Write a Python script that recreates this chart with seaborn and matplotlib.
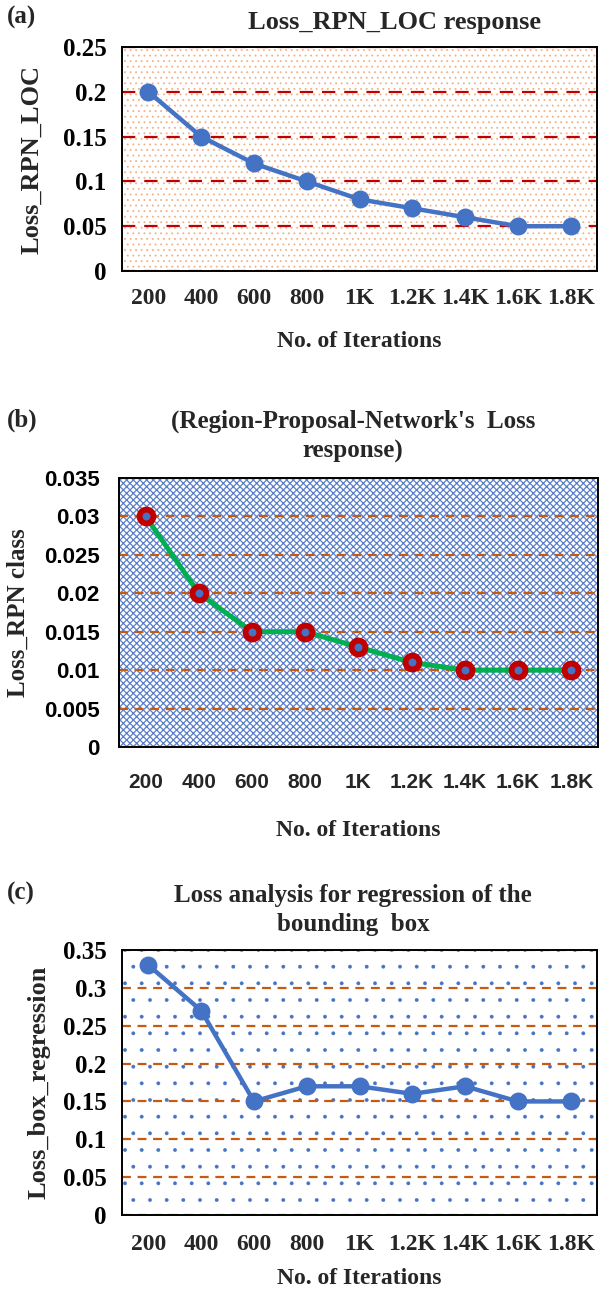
import matplotlib
matplotlib.use("Agg")
import matplotlib.pyplot as plt
from matplotlib.patches import Rectangle
import seaborn as sns

ITER_LABELS = ['200', '400', '600', '800', '1K', '1.2K', '1.4K', '1.6K', '1.8K']
rpn_loc = [0.2, 0.15, 0.12, 0.1, 0.08, 0.07, 0.06, 0.05, 0.05]
rpn_class = [0.03, 0.02, 0.015, 0.015, 0.013, 0.011, 0.01, 0.01, 0.01]
box_reg = [0.33, 0.27, 0.15, 0.17, 0.17, 0.16, 0.17, 0.15, 0.15]

TICKS_A = [0, 0.05, 0.1, 0.15, 0.2, 0.25]
TICKS_B = [0, 0.005, 0.01, 0.015, 0.02, 0.025, 0.03, 0.035]
TICKS_C = [0, 0.05, 0.1, 0.15, 0.2, 0.25, 0.3, 0.35]
TICKLAB_A = ['0', '0.05', '0.1', '0.15', '0.2', '0.25']
TICKLAB_B = ['0', '0.005', '0.01', '0.015', '0.02', '0.025', '0.03', '0.035']
TICKLAB_C = ['0', '0.05', '0.1', '0.15', '0.2', '0.25', '0.3', '0.35']

sns.set_theme(style="white")
plt.rcParams['font.family'] = ['Liberation Serif', 'DejaVu Serif']
plt.rcParams['font.weight'] = 'bold'

SERIF = 'Liberation Serif'
SANS = 'Liberation Sans'

fig = plt.figure(figsize=(6.05, 12.93), dpi=100)
W, H = 605, 1293


def add_axes(left, top, right, bottom):
    return fig.add_axes([left / W, 1 - bottom / H, (right - left) / W, (bottom - top) / H])


def background(ax, face, hatch, hcolor, hlw):
    rect = Rectangle((0, 0), 1, 1, transform=ax.transAxes, facecolor=face,
                     edgecolor=hcolor, hatch=hatch, lw=0, zorder=0.1)
    if hasattr(rect, 'set_hatch_linewidth'):
        rect.set_hatch_linewidth(hlw)
    ax.add_patch(rect)


def style_axes(ax, ticks, ticklabels, grid_color, dashes, font, ytick_size, xtick_size, ypad,
               xpad, ylabel, ylabel_x, ylabel_size, xlabelpad):
    ax.set_ylim(ticks[0], ticks[-1])
    ax.set_yticks(ticks)
    ax.set_yticklabels(ticklabels, fontfamily=font, fontweight='bold', fontsize=ytick_size)
    ax.tick_params(axis='y', length=0, pad=ypad, colors='black')
    ax.tick_params(axis='x', length=0, pad=xpad, labelsize=xtick_size)
    for lab in ax.get_xticklabels():
        lab.set_fontfamily(font)
        lab.set_fontweight('bold')
    ax.yaxis.grid(True, color=grid_color, linestyle=(0, dashes), linewidth=1.6)
    ax.set_axisbelow(True)
    for sp in ax.spines.values():
        sp.set_color('black')
        sp.set_linewidth(1.4)
        sp.set_zorder(3)
    ax.set_xlabel('No. of Iterations', fontsize=17, fontweight='bold', fontfamily=SERIF,
                  labelpad=xlabelpad)
    ax.set_ylabel(ylabel, fontsize=ylabel_size, fontweight='bold', fontfamily=SERIF)
    ax.yaxis.label.set_va('center')
    ax.yaxis.set_label_coords(ylabel_x, 0.5)


# (a) Loss_RPN_LOC
ax_a = add_axes(122, 47, 597, 271)
background(ax_a, 'white', '...', '#F4B183', 0.6)
sns.pointplot(x=ITER_LABELS, y=rpn_loc, ax=ax_a, color='#4472C4', errorbar=None,
              markers='o', markersize=10.5, linewidth=3.2, zorder=4)
style_axes(ax_a, TICKS_A, TICKLAB_A, '#C00000', (6, 4), SERIF, 18, 17, 11, 12,
           'Loss_RPN_LOC', -0.19, 19, 16)

# (b) RPN class loss
ax_b = add_axes(119, 478, 598, 747)
background(ax_b, 'white', 'xxxxx', '#5B7FC9', 0.9)
sns.pointplot(x=ITER_LABELS, y=rpn_class, ax=ax_b, color='#00B050', errorbar=None,
              markers='o', markersize=10, linewidth=3.6, markerfacecolor='#4472C4',
              markeredgecolor='#C00000', markeredgewidth=4.2, zorder=4)
style_axes(ax_b, TICKS_B, TICKLAB_B, '#C55A11', (4, 3), SANS, 16, 15, 14, 19,
           'Loss_RPN class', -0.21, 18, 20)

# (c) box regression loss
ax_c = add_axes(122, 950, 597, 1215)
background(ax_c, 'white', '.', '#4472C4', 0.3)
sns.pointplot(x=ITER_LABELS, y=box_reg, ax=ax_c, color='#4472C4', errorbar=None,
              markers='o', markersize=10.5, linewidth=3.2, zorder=4)
style_axes(ax_c, TICKS_C, TICKLAB_C, '#C55A11', (4, 3), SERIF, 18, 17, 11, 14,
           'Loss_box_regression', -0.175, 19, 9)

# titles and panel letters
fig.text(395 / W, 1 - 23 / H, 'Loss_RPN_LOC response', ha='center', va='center',
         fontsize=19, fontweight='bold', fontfamily=SERIF)
fig.text(353 / W, 1 - 436 / H, "(Region-Proposal-Network's  Loss\nresponse)", ha='center',
         va='center', fontsize=18, fontweight='bold', fontfamily=SERIF, linespacing=1.35)
fig.text(353 / W, 1 - 910 / H, 'Loss analysis for regression of the\nbounding  box', ha='center',
         va='center', fontsize=18, fontweight='bold', fontfamily=SERIF, linespacing=1.35)
for letter, y in [('(a)', 17), ('(b)', 420), ('(c)', 893)]:
    fig.text(7 / W, 1 - y / H, letter, ha='left', va='center', fontsize=18,
             fontweight='bold', fontfamily=SERIF)

fig.savefig('out.png', dpi=100, facecolor='white')
